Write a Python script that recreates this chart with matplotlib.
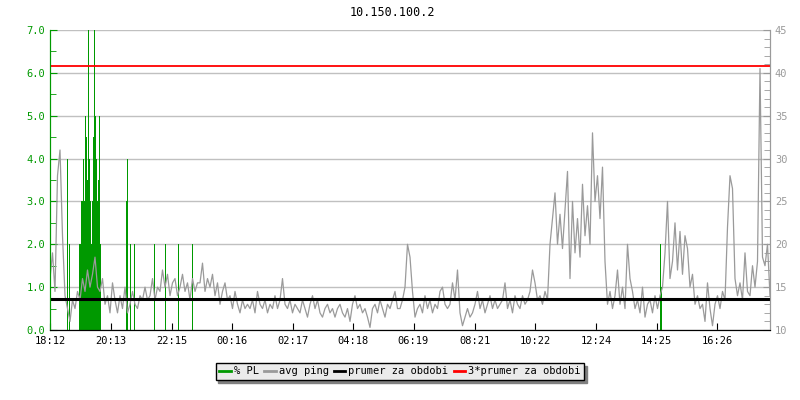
import numpy as np
import matplotlib.pyplot as plt
from matplotlib.lines import Line2D
from matplotlib.ticker import MultipleLocator

plt.rcParams['font.family'] = ['DejaVu Sans Mono']

# ---------------------------
# data
# ---------------------------
title = "10.150.100.2"
tick_labels = ["18:12", "20:13", "22:15", "00:16", "02:17", "04:18",
               "06:19", "08:21", "10:22", "12:24", "14:25", "16:26"]

# avg ping [ms], one sample every 5 minutes starting 18:12 (right axis)
ping_ms = [
    16, 19, 14.5, 28, 31, 21, 14, 12.5, 11, 13.5, 12.5, 14.5, 13.5, 16, 14.5, 17, 15, 16.5, 18.5, 15,
    14.5, 16, 13, 14, 12, 15.5, 13.5, 12, 14, 12.5, 15, 12, 13, 14.5, 13, 12.5, 14, 13.5, 15, 13.5,
    14, 16, 13.5, 15, 14.5, 17, 15, 16.5, 14, 15.5, 16, 14, 15, 16.5, 14.5, 15.5, 13.5, 16, 14.5, 15.5,
    15.5, 17.8, 14.5, 16, 15, 16.5, 14, 15.5, 13, 14.5, 15.5, 13.5, 14, 12.5, 14.5, 13, 12, 13.5, 12.5, 13,
    12.5, 13.5, 12, 14.5, 13, 12.5, 13.5, 12, 13, 12.5, 14, 12.5, 13.5, 16, 13, 12.5, 13.5, 12, 13, 12.5,
    12, 13.5, 12.5, 11.5, 13, 14, 12.5, 13.5, 12, 11.5, 12.5, 13, 12, 12.5, 11.5, 12.5, 13, 12, 11.5, 12.5,
    11, 13, 14, 12.5, 13, 12, 12.5, 11.5, 10.3, 12.5, 13, 12, 13.5, 12.5, 11.5, 13, 12.5, 13.5, 14.5, 12.5,
    12.5, 13.5, 15, 20, 18.5, 14.5, 11.5, 12.5, 13, 12, 14, 12.5, 13.5, 12, 13, 12.5, 14.5, 15, 13, 12.5,
    13, 15.5, 13.5, 17, 12, 10.5, 11.5, 12.5, 11.5, 12, 13, 14.5, 12.5, 13.5, 12, 13, 14, 12.5, 13.5, 12.5,
    13, 13.5, 15.5, 12.5, 13.5, 12, 14, 13, 12.5, 14, 13, 13.5, 14.5, 17, 15.5, 13.5, 14, 13, 14.5, 13.5,
    20, 23, 26, 20, 23.5, 19.5, 24, 28.5, 16, 25, 19, 23, 18.5, 27, 21, 24.5, 20, 33, 25, 28,
    23, 29, 18, 13, 14.5, 12.5, 14, 17, 13, 15, 12.5, 20, 16, 14.5, 12.5, 13.5, 12, 15, 11.5, 13,
    13.5, 12, 14, 12.5, 14, 15, 19, 25, 16, 18, 22.5, 17, 21.5, 16.5, 21, 19.5, 15, 16.5, 13, 14,
    12.5, 13, 11, 15.5, 12.5, 10.5, 13, 14, 12.5, 14.5, 13.5, 22, 28, 26.5, 16, 14, 15.5, 13.5, 19, 14.5,
    14, 17.5, 15, 18, 40.5, 18.5, 17.5, 20, 14,
]
sample_step_min = 5

# packet loss [%] (left axis): minute after 18:12 and value
pl_min = [35, 38,
          58, 60, 62, 64, 66, 68, 70, 72, 74, 76, 78,
          80, 82, 84, 86, 88, 90, 92, 94, 96, 98, 100,
          152, 155, 161, 169, 209, 230, 257, 284, 1221, 1223]
pl_pct = [4.0, 2.0,
          2.0, 2.0, 3.0, 3.0, 4.0, 3.0, 5.0, 4.5, 3.5, 7.0, 4.0,
          3.0, 2.0, 3.0, 4.5, 7.0, 5.0, 4.0, 3.0, 3.5, 5.0, 2.0,
          3.0, 4.0, 2.0, 2.0, 2.0, 2.0, 2.0, 2.0, 2.0, 1.0]

avg_ping = 13.6  # prumer za obdobi

legend_labels = ["% PL", "avg ping", "prumer za obdobi", "3*prumer za obdobi"]
green, gray, red = '#009900', '#9a9a9a', '#ff0000'

# ---------------------------
# plot
# ---------------------------
time_min = np.arange(len(ping_ms)) * sample_step_min

def minutes_after_start(lbl, start="18:12"):
    h, m = map(int, lbl.split(":"))
    h0, m0 = map(int, start.split(":"))
    return (h * 60 + m - h0 * 60 - m0) % 1440

tick_pos = [minutes_after_start(t) for t in tick_labels]

fig = plt.figure(figsize=(8, 4), dpi=100)
ax = fig.add_axes([50 / 800, 70 / 400, 720 / 800, 300 / 400])
ax2 = ax.twinx()

ax.yaxis.grid(True, color='#c0c0c0', lw=1)
ax.set_axisbelow(True)
ax.bar(pl_min, pl_pct, width=2, color=green, linewidth=0)

ax2.plot(time_min, ping_ms, color=gray, lw=0.9)
ax2.axhline(avg_ping, color='black', lw=2.2)
ax2.axhline(3 * avg_ping, color=red, lw=1.3)

ax.set_xlim(0, 1440)
ax.set_ylim(0, 7)
ax2.set_ylim(10, 45)

ax.set_xticks(tick_pos)
ax.set_xticklabels(tick_labels)
ax.yaxis.set_major_locator(MultipleLocator(1))
ax.yaxis.set_minor_locator(MultipleLocator(0.5))
ax.yaxis.set_major_formatter('{x:.1f}')
ax2.yaxis.set_major_locator(MultipleLocator(5))
ax2.yaxis.set_minor_locator(MultipleLocator(1))

fs = 7.5
ax.tick_params(axis='x', direction='in', length=5, labelsize=fs, colors='black', pad=4)
ax.tick_params(axis='y', which='both', direction='in', colors=green, labelsize=fs)
ax.tick_params(axis='y', which='major', length=5)
ax.tick_params(axis='y', which='minor', length=4)
ax2.tick_params(axis='y', which='both', direction='in', colors=gray, labelsize=fs)
ax2.tick_params(axis='y', which='major', length=5)
ax2.tick_params(axis='y', which='minor', length=4)

for a in (ax, ax2):
    a.spines['top'].set_visible(False)
    a.spines['left'].set_color(green)
    a.spines['right'].set_color(gray)
    a.spines['bottom'].set_color('black')

fig.text(0.49, 0.97, title, ha='center', va='center', fontsize=8.5)

handles = [Line2D([], [], color=c, lw=2) for c in (green, gray, 'black', red)]
leg = fig.legend(handles, legend_labels, loc='center', bbox_to_anchor=(0.5, 1 - 371.5 / 400),
                 ncol=4, frameon=True, fancybox=False, shadow={'color': '#808080', 'alpha': 1},
                 edgecolor='black', facecolor='#ebebeb', framealpha=1,
                 handlelength=1.1, handletextpad=0.3, columnspacing=0.5, borderpad=0.35,
                 fontsize=fs)
leg.get_frame().set_linewidth(1)

fig.savefig('out.png', dpi=100)
